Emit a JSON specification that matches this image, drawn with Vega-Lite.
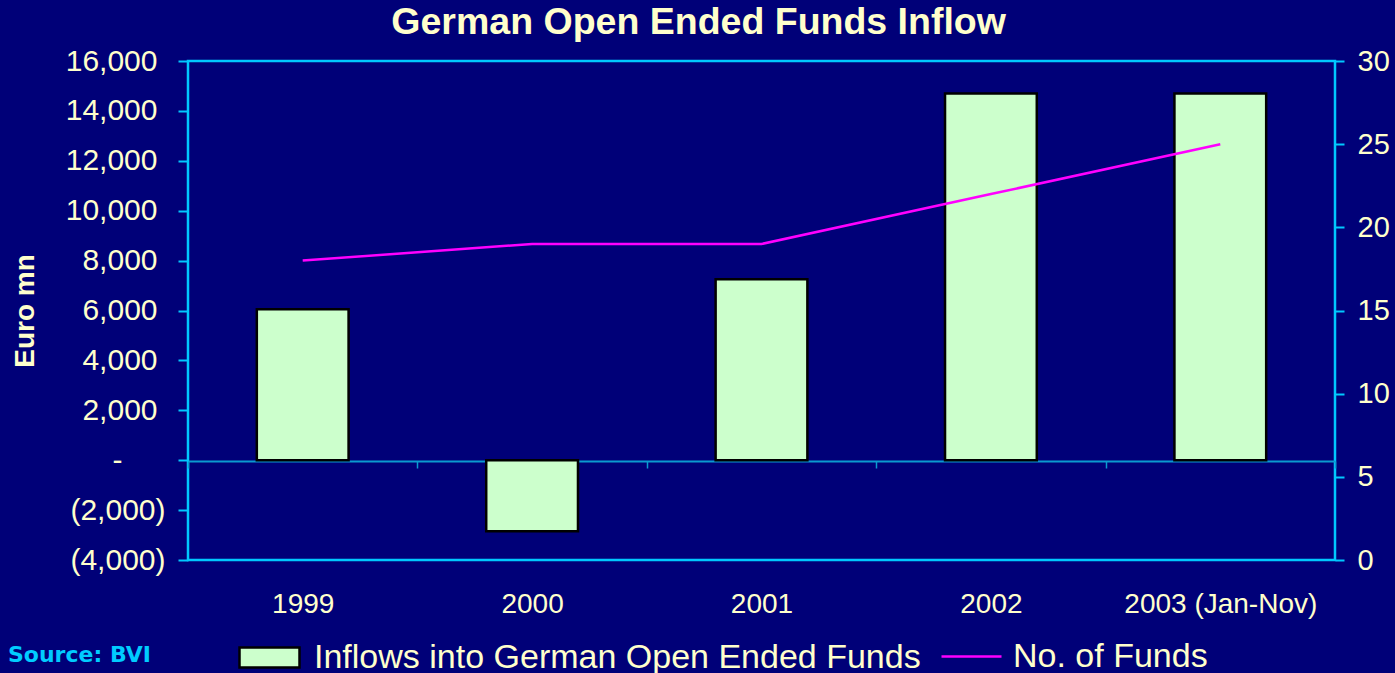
{
  "$schema": "https://vega.github.io/schema/vega-lite/v6.json",
  "width": 1147,
  "height": 499,
  "autosize": {"type": "none"},
  "padding": {"left": 188, "top": 61, "right": 60, "bottom": 113},
  "background": "#000078",
  "config": {
    "font": "Liberation Sans",
    "view": {"stroke": "#00c8ff", "strokeWidth": 2.5},
    "axis": {"labelColor": "#ffffcc", "labelFont": "Liberation Sans", "labelFontSize": 29, "grid": false, "titleColor": "#ffffcc", "titleFont": "Liberation Sans"}
  },
  "title": {"text": "German Open Ended Funds Inflow", "fontSize": 37.5, "fontWeight": "bold", "color": "#ffffcc", "font": "Liberation Sans", "anchor": "middle", "frame": "bounds", "offset": 5},
  "data": {"values": [
    {"year": "1999", "inflow": 6050, "funds": 18},
    {"year": "2000", "inflow": -2850, "funds": 19},
    {"year": "2001", "inflow": 7250, "funds": 19},
    {"year": "2002", "inflow": 14700, "funds": 22},
    {"year": "2003 (Jan-Nov)", "inflow": 14700, "funds": 25}
  ]},
  "encoding": {
    "x": {"field": "year", "type": "nominal", "sort": null,
      "scale": {"paddingInner": 0, "paddingOuter": 0},
      "axis": {"title": null, "orient": "bottom", "offset": -99, "domain": true, "domainColor": "#0a9ad0", "domainWidth": 2, "ticks": true, "tickBand": "extent", "tickSize": 7, "tickColor": "#0a9ad0", "tickWidth": 1.5, "labelPadding": 122, "labelAngle": 0, "labelFont": "Liberation Sans", "labelFontSize": 28, "labelLimit": 400}}
  },
  "layer": [
    {
      "mark": {"type": "bar", "stroke": "#000000", "strokeWidth": 2.5, "width": {"band": 0.4}},
      "encoding": {
        "y": {"field": "inflow", "type": "quantitative", "scale": {"domain": [-4000, 16000], "nice": false},
          "axis": {"title": "Euro mn", "titleFontSize": 28, "titleFontWeight": "bold", "titlePadding": 26,
            "values": [-4000, -2000, 0, 2000, 4000, 6000, 8000, 10000, 12000, 14000, 16000],
            "domain": false, "tickSize": 10, "tickColor": "#00c8ff", "tickWidth": 2,
            "labelPadding": {"condition": [{"test": "datum.value == 0", "value": 56}, {"test": "datum.value > 0", "value": 21}], "value": 13},
            "labelFont": "Liberation Sans", "labelFontSize": 30,
            "labelExpr": "datum.value == 0 ? '-' : (datum.value < 0 ? '(' + format(-datum.value, ',') + ')' : format(datum.value, ','))"}},
        "fill": {"datum": "Inflows into German Open Ended Funds", "scale": {"range": ["#ccffcc"]},
          "legend": {"orient": "none", "legendX": -180, "legendY": 575, "title": "Source: BVI", "titleOrient": "left", "titleAnchor": "middle",
            "titleColor": "#00ccff", "titleFontSize": 22, "titleFont": "DejaVu Sans", "titleFontWeight": "bold", "titlePadding": 97,
            "symbolType": "M-1.5,-0.5H1.5V0.5H-1.5Z", "symbolSize": 1600, "symbolStrokeColor": "#000000", "symbolStrokeWidth": 2.5,
            "labelFontSize": 34, "labelColor": "#ffffcc", "labelFont": "Liberation Sans", "labelOffset": 23, "labelLimit": 800}}
      }
    },
    {
      "mark": {"type": "line", "strokeWidth": 2.5},
      "encoding": {
        "y": {"field": "funds", "type": "quantitative", "scale": {"domain": [0, 30], "nice": false},
          "axis": {"orient": "right", "title": null, "values": [0, 5, 10, 15, 20, 25, 30], "domain": false, "tickSize": 9, "tickColor": "#00c8ff", "tickWidth": 2, "labelPadding": 13, "labelFont": "Liberation Sans", "labelFontSize": 29}},
        "stroke": {"datum": "No. of Funds", "scale": {"range": ["#ff00ff"]},
          "legend": {"orient": "none", "legendX": 752, "legendY": 564, "title": null, "symbolType": "stroke", "symbolSize": 3600, "symbolStrokeWidth": 2.5,
            "labelFontSize": 34, "labelColor": "#ffffcc", "labelFont": "Liberation Sans", "labelOffset": 10, "labelLimit": 400}}
      }
    }
  ],
  "resolve": {"scale": {"y": "independent"}}
}
